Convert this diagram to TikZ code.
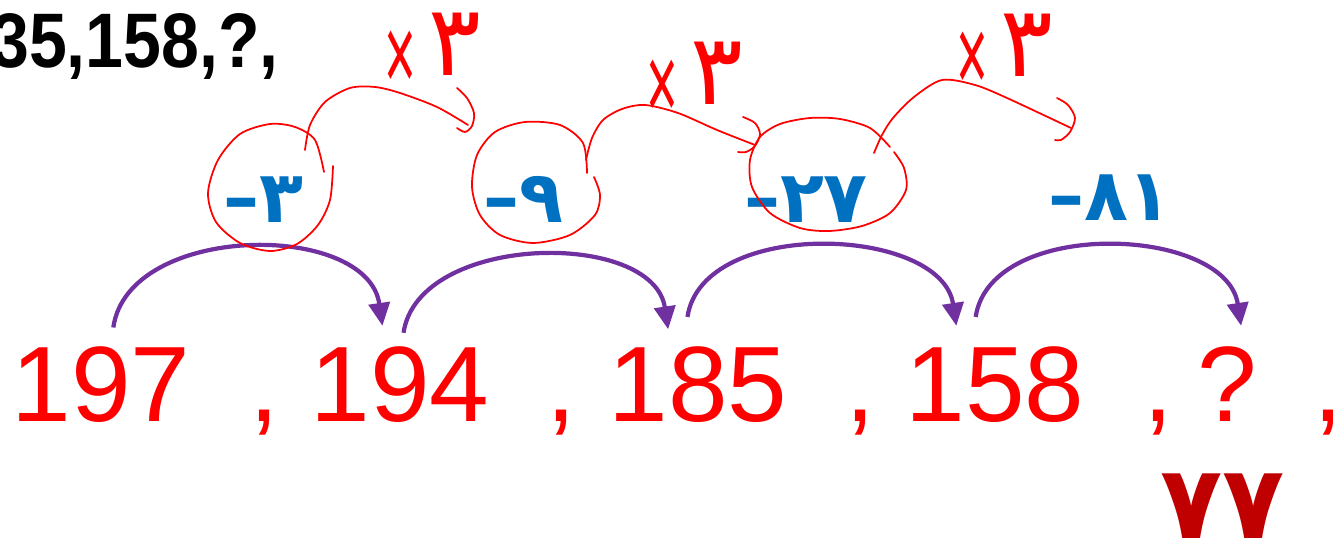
\documentclass[tikz,border=0pt]{standalone}
\usepackage{fontspec}
\setmainfont{Liberation Sans}
\newfontfamily\fadigits{DejaVu Sans}
\usetikzlibrary{positioning,arrows.meta}
\definecolor{numred}{HTML}{FF0000}
\definecolor{stepblue}{HTML}{0070C0}
\definecolor{arcpurple}{HTML}{7030A0}
\definecolor{ansred}{HTML}{C00000}
\newcommand{\timesthree}{\scalebox{0.5}[1]{\fontsize{62}{62}\selectfont\raisebox{-9pt}{×}}\hspace{7pt}{\fadigits\fontsize{56}{56}\selectfont ۳}}

\begin{document}
\begin{tikzpicture}[x=0.02cm, y=-0.02cm,
  num/.style={anchor=base, inner sep=0pt, text=numred, font=\fontsize{61}{61}\selectfont},
  diff/.style={anchor=base, inner sep=0pt, text=stepblue, font=\fadigits\bfseries\fontsize{41}{41}\selectfont},
  jump/.style={arcpurple, line width=2.4pt, -{Triangle[length=13pt,width=12pt]}},
  ink/.style={red, line width=1pt, line cap=round, line join=round},
  mult/.style={anchor=base west, inner sep=0pt, text=red}]

\useasboundingbox (0,0) rectangle (1333,543);

% question line, cut at the left edge
\node[anchor=base east, inner sep=0pt, font=\bfseries\fontsize{44}{44}\selectfont] (q) at (279,68) {\scalebox{0.88}[1]{35,158,?,}};

% the sequence
\node[num] (n1) at (101,422) {197};
\node[num] (c1) at (264,422) {,};
\node[num] (n2) at (400,422) {194};
\node[num] (c2) at (561,422) {,};
\node[num] (n3) at (698,422) {185};
\node[num] (c3) at (860,422) {,};
\node[num] (n4) at (995,422) {158};
\node[num] (c4) at (1158,422) {,};
\node[num] (n5) at (1227,422) {?};
\node[num] (c5) at (1328,422) {,};

% jumps
\draw[jump] ([xshift=7pt,yshift=11pt]n1.north) .. controls +(15,-105) and +(-15,-105) .. ([xshift=-10pt,yshift=12pt]n2.north);
\draw[jump] ([xshift=2pt,yshift=8pt]n2.north) .. controls +(15,-100) and +(-15,-100) .. ([xshift=-17pt,yshift=10pt]n3.north);
\draw[jump] ([xshift=-6pt,yshift=17pt]n3.north) .. controls +(15,-100) and +(-15,-100) .. ([xshift=-22pt,yshift=12pt]n4.north);
\draw[jump] ([xshift=-11pt,yshift=17pt]n4.north) .. controls +(15,-100) and +(-15,-100) .. ([xshift=8pt,yshift=12pt]n5.north);

% differences
\node[diff] (d1) at (263,223) {–۳};
\node[diff] (d2) at (523,223) {–۹};
\node[diff] (d3) at (806,223) {–۲۷};
\node[diff] (d4) at (1110,221) {–۸۱};

% hand drawn rings
\draw[ink] plot[smooth] coordinates {(324,172) (315,140) (295,127) (270,124) (240,134) (218,160) (208,193) (216,222) (240,243) (270,251) (297,244) (318,225) (330,200) (333,166)};
\draw[ink] plot[smooth] coordinates {(587,173) (583,143) (560,125) (525,122) (495,132) (477,155) (472,187) (480,215) (500,235) (533,243) (570,235) (595,215) (600,195) (594,177)};
\draw[ink] plot[smooth] coordinates {(890,147) (870,128) (840,119) (810,118) (780,124) (760,137) (750,160) (752,187) (770,213) (800,228) (829,231) (862,226) (890,213) (906,190) (904,168) (894,152)};

% times three
\draw[ink] plot[smooth] coordinates {(305,150) (310,125) (325,102) (350,88) (375,87) (400,93) (437,107) (468,125)};
\draw[ink] plot[smooth] coordinates {(457,88) (467,98) (474,113) (472,126) (465,132) (457,128)};
\draw[ink] plot[smooth] coordinates {(586,160) (592,138) (603,120) (622,109) (645,105) (678,113) (717,130) (755,145)};
\draw[ink] plot[smooth] coordinates {(743,117) (755,123) (760,134) (755,146) (746,152) (738,152)};
\draw[ink] plot[smooth] coordinates {(874,153) (882,135) (893,118) (914,97) (942,80) (975,85) (1007,98) (1071,128)};
\draw[ink] plot[smooth] coordinates {(1057,98) (1068,105) (1075,118) (1070,132) (1061,140) (1055,140)};
\node[mult] (m1) at (384,76) {\timesthree};
\node[mult] (m2) at (646,105) {\timesthree};
\node[mult] (m3) at (956,77) {\timesthree};

% answer
\node[anchor=base, inner sep=0pt, text=ansred, font=\fadigits\bfseries\fontsize{58}{58}\selectfont] (ans) at (1223,539) {۷۷};
\end{tikzpicture}
\end{document}
